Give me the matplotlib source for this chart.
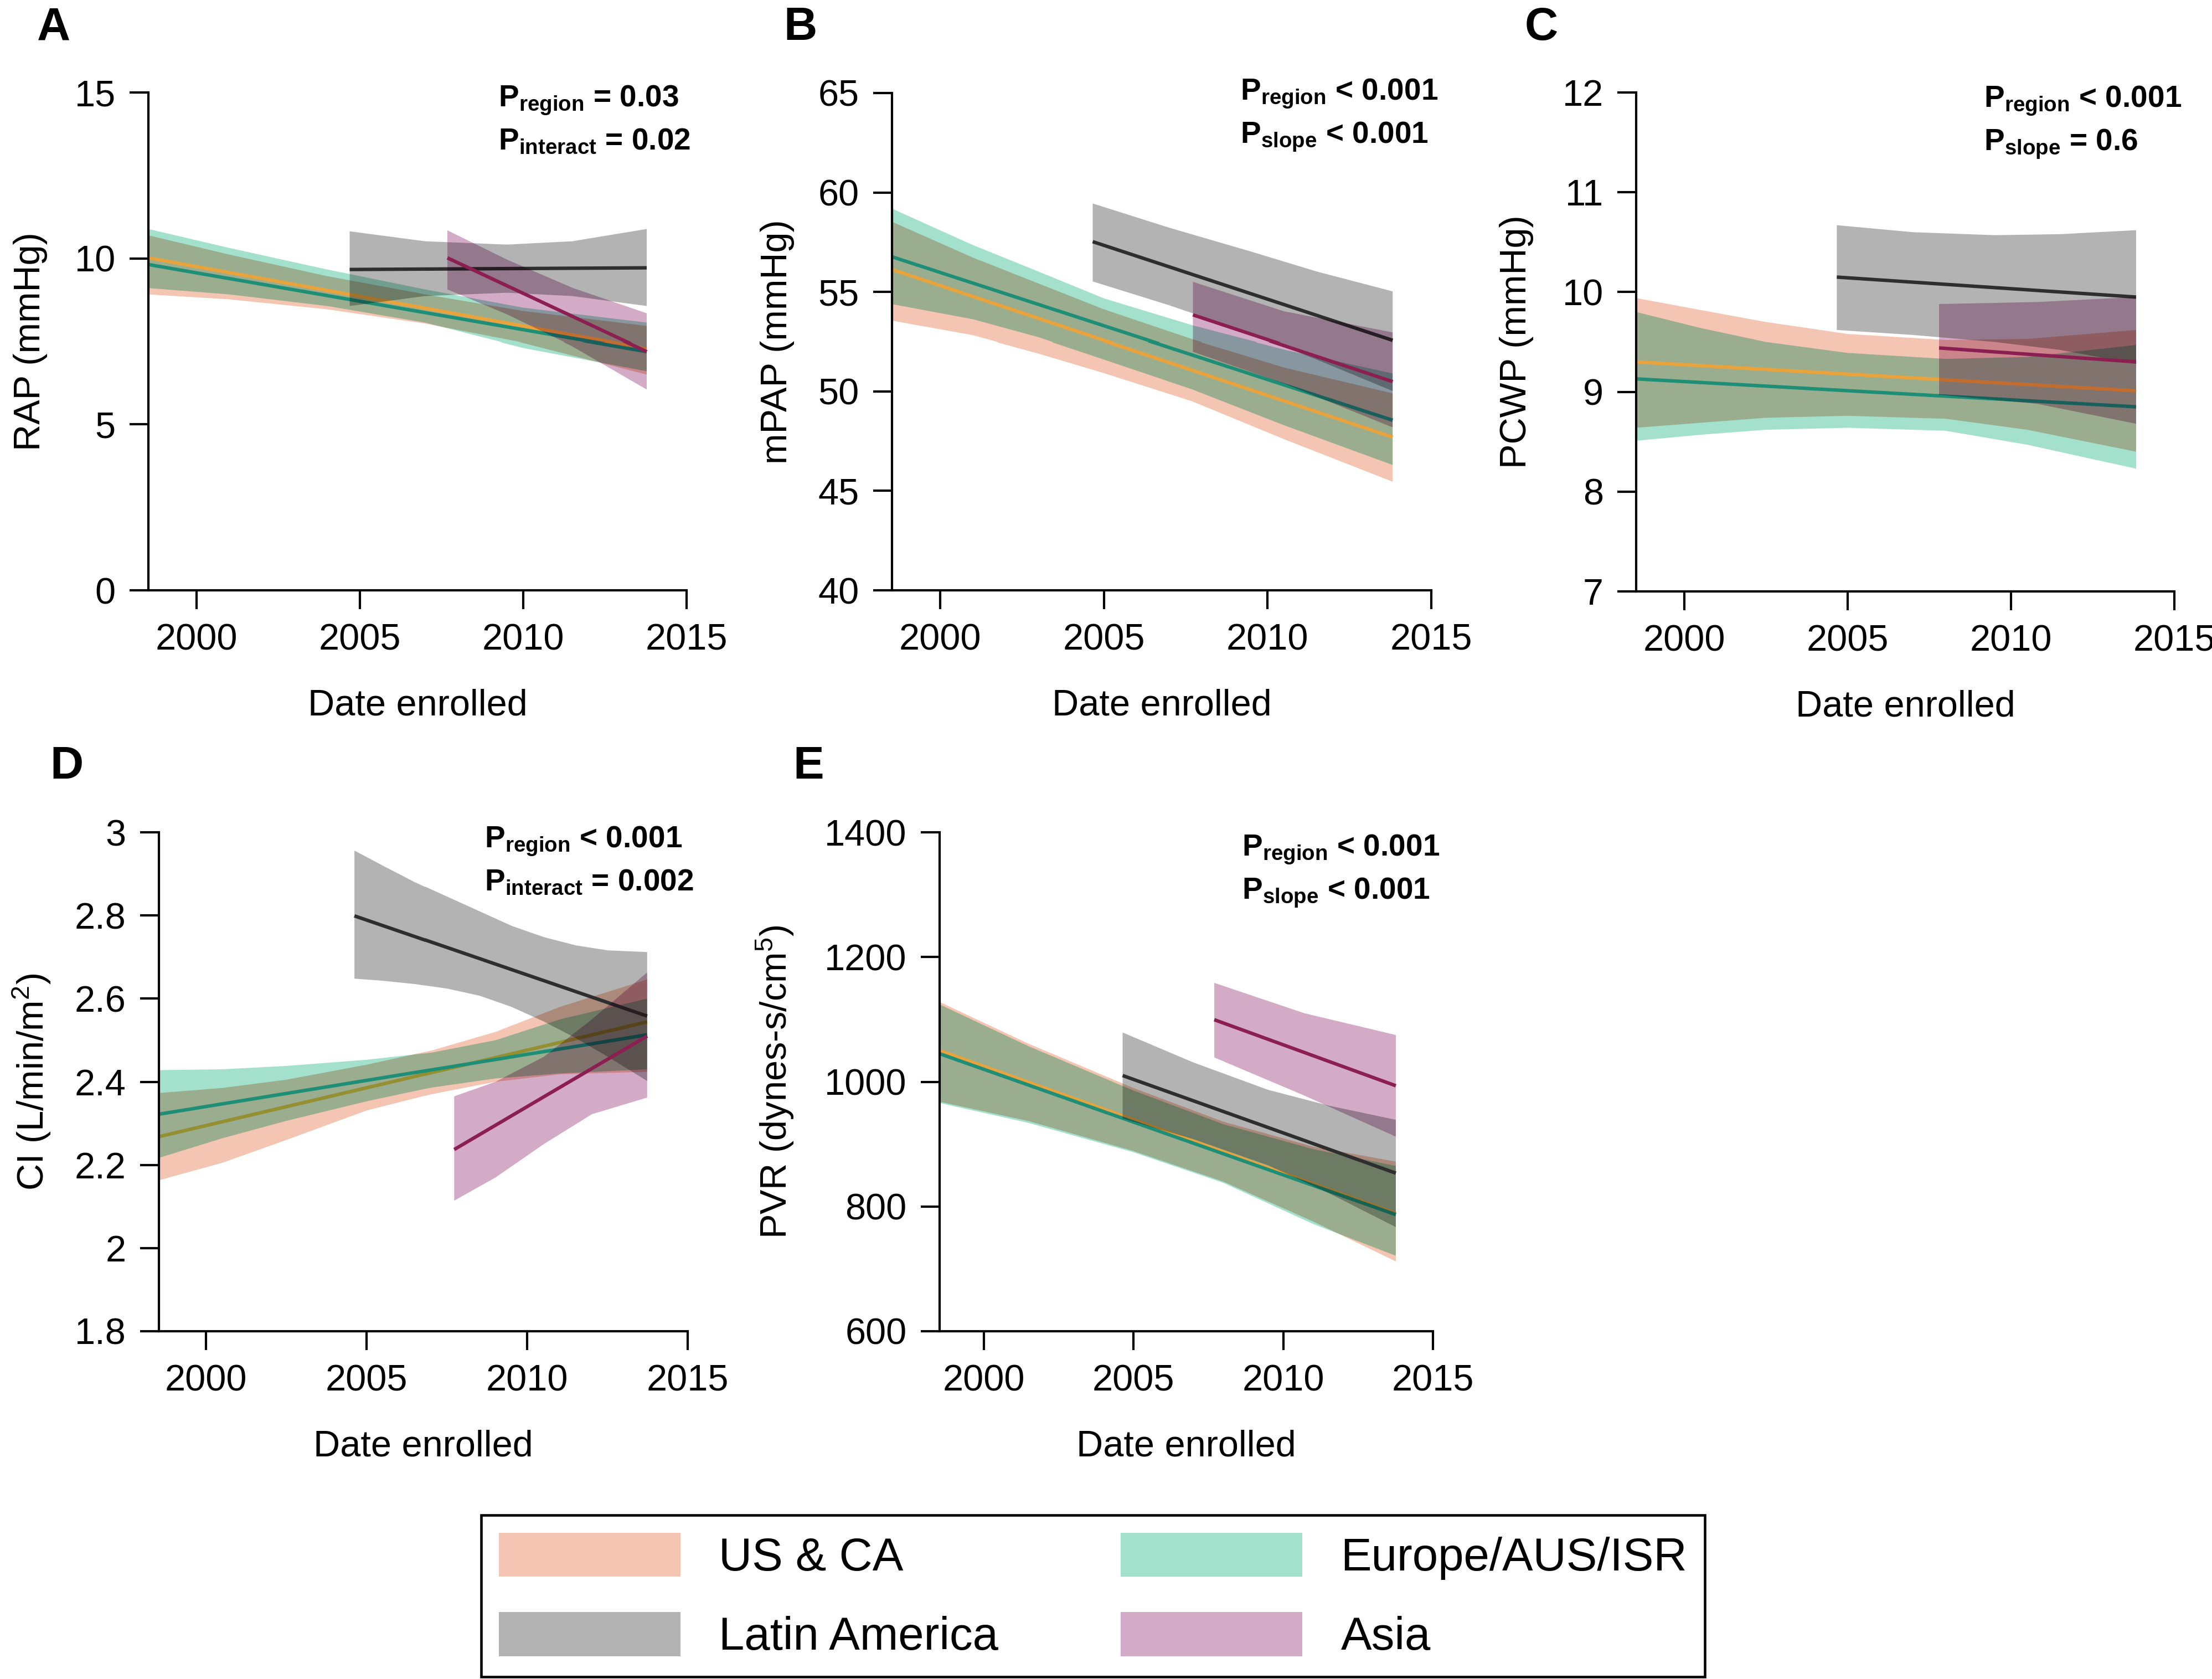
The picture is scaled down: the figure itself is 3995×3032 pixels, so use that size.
import numpy as np
import matplotlib
matplotlib.use("Agg")
import matplotlib.pyplot as plt
from matplotlib.figure import Figure
from matplotlib.backends.backend_agg import FigureCanvasAgg
from matplotlib.patches import Patch

# ---------------- data ----------------
REGIONS = ['US & CA', 'Latin America', 'Europe/AUS/ISR', 'Asia']
XTICKS = [2000, 2005, 2010, 2015]
XLIM = (1998.53, 2015.0)

# Panel A  (RAP)
A_X_MAIN = [1998.53, 2001, 2004, 2007, 2010, 2013.78]
A_US_UP = [10.68, 10.1, 9.45, 8.9, 8.4, 7.95]
A_US_LO = [8.9, 8.75, 8.45, 8.02, 7.45, 6.5]
A_EU_UP = [10.87, 10.3, 9.65, 9.05, 8.5, 8.05]
A_EU_LO = [9.09, 8.9, 8.55, 8.05, 7.3, 6.6]
A_US_LINE = [10.0, 7.27]
A_EU_LINE = [9.8, 7.19]
A_X_LA = [2004.69, 2007, 2009.5, 2011.5, 2013.78]
A_LA_UP = [10.8, 10.5, 10.4, 10.5, 10.87]
A_LA_LO = [8.55, 8.85, 8.95, 8.85, 8.55]
A_LA_LINE = [9.65, 9.7]
A_X_AS = [2007.68, 2009.5, 2011.5, 2013.78]
A_AS_UP = [10.83, 9.95, 9.1, 8.33]
A_AS_LO = [9.05, 8.3, 7.35, 6.05]
A_AS_LINE = [10.0, 7.19]
A_YTICKS = [0, 5, 10, 15]

# Panel B  (mPAP)
B_X_MAIN = [1998.53, 2001, 2003, 2005, 2007.7, 2010.5, 2013.82]
B_US_UP = [58.5, 56.7, 55.4, 54.1, 52.6, 51.2, 49.9]
B_US_LO = [53.53, 52.8, 51.9, 50.92, 49.5, 47.6, 45.46]
B_EU_UP = [59.16, 57.33, 56.0, 54.65, 53.3, 52.1, 50.9]
B_EU_LO = [54.36, 53.6, 52.7, 51.6, 50.1, 48.3, 46.3]
B_US_LINE = [56.1, 47.7]
B_EU_LINE = [56.74, 48.55]
B_X_LA = [2004.66, 2007, 2009.5, 2011.5, 2013.82]
B_LA_UP = [59.42, 58.2, 57.0, 56.0, 55.0]
B_LA_LO = [55.5, 54.3, 52.9, 51.6, 50.02]
B_LA_LINE = [57.5, 52.54]
B_X_AS = [2007.72, 2010.5, 2013.82]
B_AS_UP = [55.48, 54.0, 52.94]
B_AS_LO = [51.99, 50.4, 48.19]
B_AS_LINE = [53.82, 50.49]
B_YTICKS = [40, 45, 50, 55, 60, 65]

# Panel C  (PCWP)
C_X_MAIN = [1998.53, 2000.5, 2002.5, 2005, 2008, 2010.5, 2013.83]
C_US_UP = [9.94, 9.82, 9.70, 9.58, 9.52, 9.53, 9.62]
C_US_LO = [8.64, 8.69, 8.74, 8.76, 8.73, 8.62, 8.40]
C_EU_UP = [9.80, 9.64, 9.50, 9.39, 9.33, 9.35, 9.47]
C_EU_LO = [8.51, 8.57, 8.62, 8.64, 8.61, 8.47, 8.23]
C_US_LINE = [9.30, 9.01]
C_EU_LINE = [9.13, 8.85]
C_X_LA = [2004.67, 2007, 2009.5, 2011.5, 2013.83]
C_LA_UP = [10.67, 10.6, 10.57, 10.58, 10.62]
C_LA_LO = [9.62, 9.57, 9.5, 9.42, 9.28]
C_LA_LINE = [10.15, 9.95]
C_X_AS = [2007.8, 2010.8, 2013.83]
C_AS_UP = [9.88, 9.9, 9.95]
C_AS_LO = [8.97, 8.88, 8.68]
C_AS_LINE = [9.44, 9.30]
C_YTICKS = [7, 8, 9, 10, 11, 12]

# Panel D  (CI)
D_X_MAIN = [1998.53, 2000.5, 2002.5, 2005, 2007, 2009, 2011, 2013.72]
D_US_UP = [2.373, 2.385, 2.405, 2.441, 2.475, 2.52, 2.58, 2.646]
D_US_LO = [2.163, 2.205, 2.26, 2.331, 2.37, 2.40, 2.418, 2.424]
D_EU_UP = [2.428, 2.43, 2.438, 2.453, 2.47, 2.50, 2.55, 2.60]
D_EU_LO = [2.217, 2.264, 2.306, 2.353, 2.386, 2.408, 2.42, 2.43]
D_US_LINE = [2.268, 2.544]
D_EU_LINE = [2.322, 2.513]
D_X_LA = [2004.62, 2005.5, 2006.5, 2007.5, 2008.5, 2009.5, 2010.5, 2011.5, 2012.5, 2013.72]
D_LA_UP = [2.956, 2.92, 2.88, 2.845, 2.81, 2.775, 2.748, 2.728, 2.716, 2.712]
D_LA_LO = [2.648, 2.643, 2.635, 2.624, 2.607, 2.58, 2.545, 2.505, 2.46, 2.402]
D_LA_LINE = [2.799, 2.558]
D_X_AS = [2007.71, 2009, 2010.5, 2012, 2013.72]
D_AS_UP = [2.365, 2.40, 2.46, 2.55, 2.663]
D_AS_LO = [2.114, 2.17, 2.25, 2.322, 2.362]
D_AS_LINE = [2.237, 2.510]
D_YTICKS = [1.8, 2.0, 2.2, 2.4, 2.6, 2.8, 3.0]
D_YTICKLABELS = ['1.8', '2', '2.2', '2.4', '2.6', '2.8', '3']

# Panel E  (PVR)
E_X_MAIN = [1998.53, 2001.5, 2005, 2008, 2011, 2013.76]
E_US_UP = [1128, 1061, 990, 936, 896, 872]
E_US_LO = [968, 937, 889, 840, 776, 712]
E_EU_UP = [1124, 1057, 986, 932, 892, 865]
E_EU_LO = [966, 934, 887, 838, 772, 721]
E_US_LINE = [1050, 789]
E_EU_LINE = [1045, 787]
E_X_LA = [2004.64, 2007, 2009.5, 2011.5, 2013.76]
E_LA_UP = [1079, 1031, 987, 962, 939]
E_LA_LO = [941, 908, 866, 822, 767]
E_LA_LINE = [1010, 853.5]
E_X_AS = [2007.70, 2010.7, 2013.76]
E_AS_UP = [1158.6, 1110, 1075]
E_AS_LO = [1039, 978, 912]
E_AS_LINE = [1099.5, 993.6]
E_YTICKS = [600, 800, 1000, 1200, 1400]

# ---------------- style ----------------
FILL = {'US': '#F4C5B2', 'EU': '#A3E1CD', 'LA': '#B3B3B3', 'AS': '#D4ABC7'}
LINE = {'US': '#E8A33D', 'EU': '#1F8E77', 'LA': '#2E2E2E', 'AS': '#8C1F52'}

W, H, DPI = 3995, 3032, 300
plt.rcParams['font.family'] = ['Liberation Sans', 'DejaVu Sans']
plt.rcParams['mathtext.fontset'] = 'custom'
plt.rcParams['mathtext.rm'] = 'Liberation Sans'
plt.rcParams['mathtext.it'] = 'Liberation Sans:italic'
plt.rcParams['mathtext.bf'] = 'Liberation Sans:bold'

fig = plt.figure(figsize=(W / DPI, H / DPI), dpi=DPI)

PFS = 13.2      # size of the P-value annotations
P_CAP = 40      # cap height of that text in pixels
P_GAP = 78      # line spacing of that text in pixels


def fill_fn(x, lo, up, c):
    return lambda a: a.fill_between(x, lo, up, facecolor=c, edgecolor='none', linewidth=0)


def line_fn(x, y, c):
    return lambda a: a.plot([x[0], x[-1]], y, color=c, lw=1.5, solid_capstyle='butt')


def composite(ax, layers, pw, ph, xlim, ylim):
    out = None
    for kind, fn in layers:
        f = Figure(figsize=(pw / DPI, ph / DPI), dpi=DPI)
        canv = FigureCanvasAgg(f)
        f.patch.set_alpha(0)
        a = f.add_axes([0, 0, 1, 1])
        a.set_xlim(xlim)
        a.set_ylim(ylim)
        a.set_axis_off()
        a.patch.set_alpha(0)
        fn(a)
        canv.draw()
        rgba = np.asarray(canv.buffer_rgba()).astype(float) / 255.0
        if out is None:
            out = np.ones(rgba.shape[:2] + (3,))
        al = rgba[..., 3:4]
        rgb = rgba[..., :3]
        if kind == 'fill':
            out = out * (1 - al + al * rgb)   # multiply blend of translucent bands
        else:
            out = out * (1 - al) + rgb * al
    ax.imshow(out, extent=(xlim[0], xlim[1], ylim[0], ylim[1]), aspect='auto',
              interpolation='nearest', zorder=0.5, origin='upper')
    ax.set_xlim(xlim)
    ax.set_ylim(ylim)


def panel(box, ylim, yticks, yticklabels, ylabel, ylab_x, letter, letter_xy,
          ptexts, p_xy, data, order):
    l, t, r, b = box
    ax = fig.add_axes([l / W, 1 - b / H, (r - l) / W, (b - t) / H])
    ax.set_xlim(XLIM)
    ax.set_ylim(ylim)
    layers = []
    for item in order:
        reg, kind = item.split('_')
        x, lo, up, ln = data[reg]
        if kind == 'fill':
            layers.append(('fill', fill_fn(x, lo, up, FILL[reg])))
        else:
            layers.append(('line', line_fn(x, ln, LINE[reg])))
    composite(ax, layers, r - l, b - t, XLIM, ylim)
    for s in ['top', 'right']:
        ax.spines[s].set_visible(False)
    for s in ['left', 'bottom']:
        ax.spines[s].set_linewidth(1.0)
    ax.set_xticks(XTICKS)
    ax.set_xticklabels([str(v) for v in XTICKS])
    ax.set_yticks(yticks)
    ax.set_yticklabels(yticklabels)
    ax.tick_params(direction='out', length=8.2, width=1.0, labelsize=16, pad=6)
    ax.set_xlabel('Date enrolled', fontsize=16)
    ax.xaxis.set_label_coords(0.5, -177.0 / (b - t))
    ax.set_ylabel(ylabel, fontsize=16, va='center')
    ax.yaxis.set_label_coords((ylab_x - l) / (r - l), 0.5)
    fig.text(letter_xy[0] / W, 1 - letter_xy[1] / H, letter, fontsize=20,
             fontweight='bold', ha='left', va='baseline')
    px, py = p_xy
    for i, s in enumerate(ptexts):
        fig.text(px / W, 1 - (py + P_CAP + P_GAP * i) / H, s, fontsize=PFS,
                 fontweight='bold', ha='left', va='baseline')
    return ax


ORDER = ['US_fill', 'EU_fill', 'US_line', 'EU_line', 'LA_fill', 'LA_line', 'AS_fill', 'AS_line']
ORDER_D = ['US_fill', 'US_line', 'EU_fill', 'EU_line', 'LA_fill', 'LA_line', 'AS_fill', 'AS_line']

panel((268, 167, 1240, 1066), (0, 15), A_YTICKS, [str(v) for v in A_YTICKS],
      'RAP (mmHg)', 55, 'A', (67, 72),
      [r'$\mathbf{P}_{\mathbf{region}}$ = 0.03', r'$\mathbf{P}_{\mathbf{interact}}$ = 0.02'],
      (900, 152),
      {'US': (A_X_MAIN, A_US_LO, A_US_UP, A_US_LINE),
       'EU': (A_X_MAIN, A_EU_LO, A_EU_UP, A_EU_LINE),
       'LA': (A_X_LA, A_LA_LO, A_LA_UP, A_LA_LINE),
       'AS': (A_X_AS, A_AS_LO, A_AS_UP, A_AS_LINE)}, ORDER)

panel((1611, 168, 2585, 1066), (40, 65), B_YTICKS, [str(v) for v in B_YTICKS],
      'mPAP (mmHg)', 1404, 'B', (1415, 72),
      [r'$\mathbf{P}_{\mathbf{region}}$ < 0.001', r'$\mathbf{P}_{\mathbf{slope}}$ < 0.001'],
      (2240, 140),
      {'US': (B_X_MAIN, B_US_LO, B_US_UP, B_US_LINE),
       'EU': (B_X_MAIN, B_EU_LO, B_EU_UP, B_EU_LINE),
       'LA': (B_X_LA, B_LA_LO, B_LA_UP, B_LA_LINE),
       'AS': (B_X_AS, B_AS_LO, B_AS_UP, B_AS_LINE)}, ORDER)

panel((2955, 167, 3927, 1068), (7, 12), C_YTICKS, [str(v) for v in C_YTICKS],
      'PCWP (mmHg)', 2739, 'C', (2754, 72),
      [r'$\mathbf{P}_{\mathbf{region}}$ < 0.001', r'$\mathbf{P}_{\mathbf{slope}}$ = 0.6'],
      (3583, 153),
      {'US': (C_X_MAIN, C_US_LO, C_US_UP, C_US_LINE),
       'EU': (C_X_MAIN, C_EU_LO, C_EU_UP, C_EU_LINE),
       'LA': (C_X_LA, C_LA_LO, C_LA_UP, C_LA_LINE),
       'AS': (C_X_AS, C_AS_LO, C_AS_UP, C_AS_LINE)}, ORDER)

panel((287, 1503, 1242, 2404), (1.8, 3.0), D_YTICKS, D_YTICKLABELS,
      r'CI (L/min/m$^2$)', 57, 'D', (90, 1406),
      [r'$\mathbf{P}_{\mathbf{region}}$ < 0.001', r'$\mathbf{P}_{\mathbf{interact}}$ = 0.002'],
      (875, 1490),
      {'US': (D_X_MAIN, D_US_LO, D_US_UP, D_US_LINE),
       'EU': (D_X_MAIN, D_EU_LO, D_EU_UP, D_EU_LINE),
       'LA': (D_X_LA, D_LA_LO, D_LA_UP, D_LA_LINE),
       'AS': (D_X_AS, D_AS_LO, D_AS_UP, D_AS_LINE)}, ORDER_D)

panel((1697, 1503, 2588, 2404), (600, 1400), E_YTICKS, [str(v) for v in E_YTICKS],
      r'PVR (dynes-s/cm$^5$)', 1400, 'E', (1432, 1406),
      [r'$\mathbf{P}_{\mathbf{region}}$ < 0.001', r'$\mathbf{P}_{\mathbf{slope}}$ < 0.001'],
      (2243, 1505),
      {'US': (E_X_MAIN, E_US_LO, E_US_UP, E_US_LINE),
       'EU': (E_X_MAIN, E_EU_LO, E_EU_UP, E_EU_LINE),
       'LA': (E_X_LA, E_LA_LO, E_LA_UP, E_LA_LINE),
       'AS': (E_X_AS, E_AS_LO, E_AS_UP, E_AS_LINE)}, ORDER)

# ---------------- legend ----------------
handles = [Patch(facecolor=FILL['US'], edgecolor='none'),
           Patch(facecolor=FILL['LA'], edgecolor='none'),
           Patch(facecolor=FILL['EU'], edgecolor='none'),
           Patch(facecolor=FILL['AS'], edgecolor='none')]
leg = fig.legend(handles, REGIONS, ncol=2, loc='center',
                 bbox_to_anchor=(1974 / W, 1 - 2882 / H), fontsize=20,
                 handlelength=3.94, handleheight=1.09, handletextpad=0.83,
                 columnspacing=2.65, labelspacing=0.7, borderpad=0.38,
                 frameon=True, fancybox=False, framealpha=1, edgecolor='black')
leg.get_frame().set_linewidth(1.1)

fig.savefig('out.png', dpi=DPI)
